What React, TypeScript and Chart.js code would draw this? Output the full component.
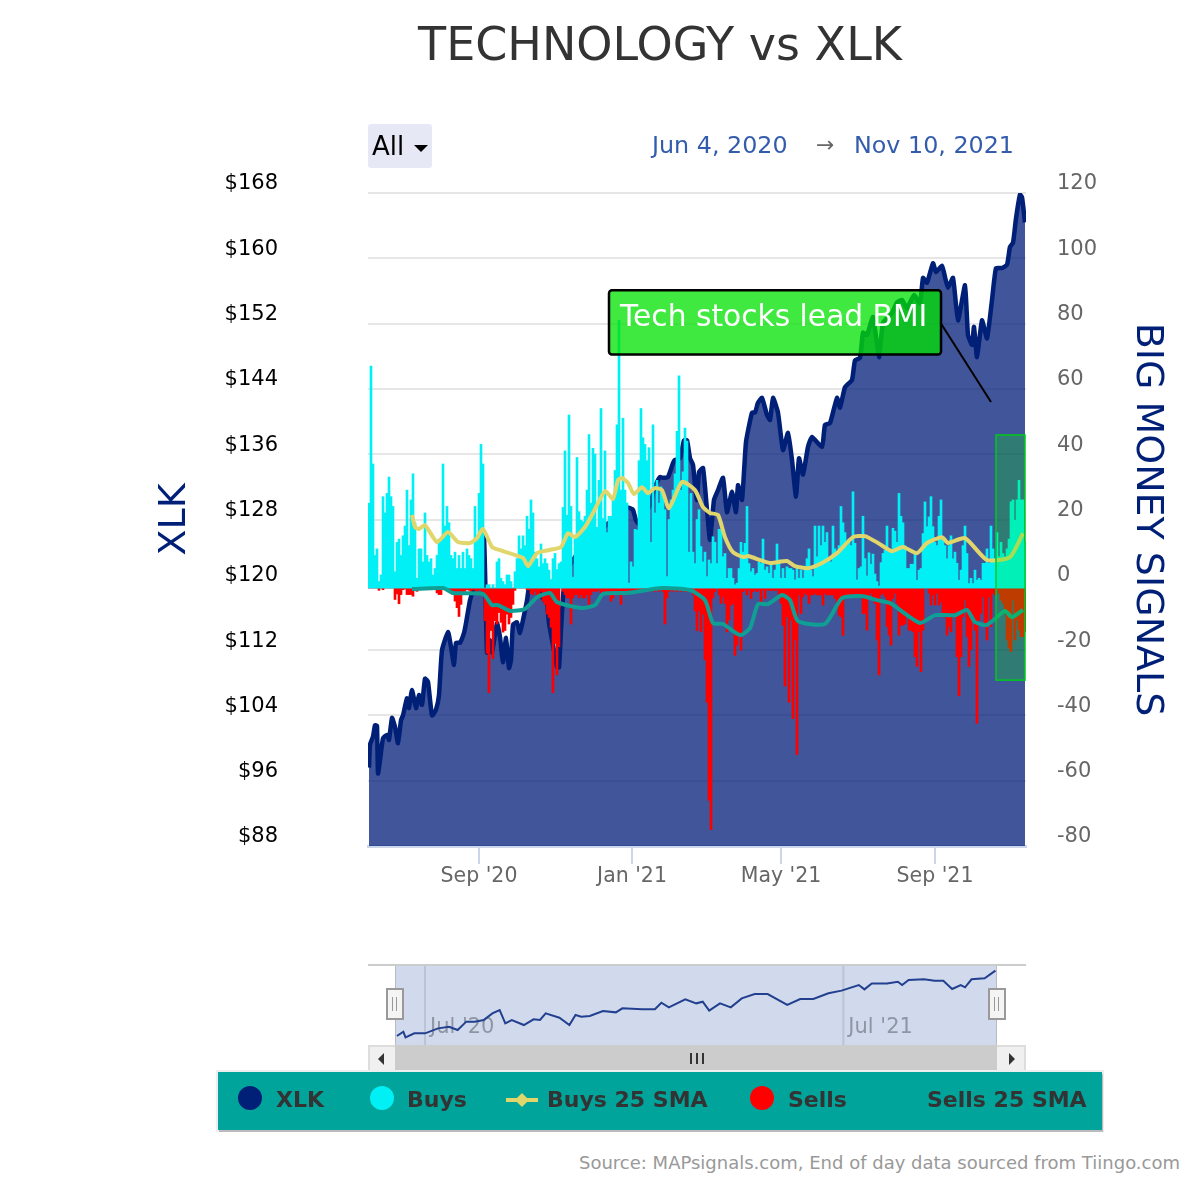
import React, { useEffect, useRef } from 'react';
import { Chart, registerables } from 'chart.js';

Chart.register(...registerables);

const FONT = '"DejaVu Sans", sans-serif';

// one value per session
const buys = [
  26, 68, 38, 10, 12, 2, 4, 28, 23, 29, 34, 28, 25, 5, 14, 15, 10, 16, 19, 30,
  13, 27, 35, 20, 3, 12, 12, 8, 23, 10, 8, 9, 4, 6, 10, 15, 15, 38, 19, 25,
  20, 10, 9, 11, 6, 10, 6, 11, 6, 12, 10, 9, 6, 25, 16, 29, 44, 38, 0, 1,
  1, 0, 1, 0, 8, 9, 3, 2, 1, 4, 4, 2, 0, 5, 9, 16, 12, 16, 13, 22,
  18, 27, 23, 11,
  9, 6.5, 13.5, 7.5, 9, 7.5, 5.5, 2.6, 9, 10.6, 5.7, 7.5, 8, 24.7, 42, 22.3, 53, 25, 3.3, 16.2,
  40, 23.4, 20.8, 20.3, 22, 30, 47, 26, 42.8, 41, 18.6, 33, 55, 21.3, 42, 17, 22, 22, 28, 36,
  50, 82, 30, 52, 30, 26, 1.5, 8, 6.5, 18, 17.8, 39, 55, 46, 44, 39, 43, 14, 50, 23,
  33, 26, 31, 29, 24, 3.5, 21, 27, 30, 35, 48, 65, 30, 35.6, 49, 45, 11, 29, 11, 7.5,
  21, 24,
  12.7, 8, 11, 3.5, 8.6, 7.5, 15.7, 14, 7.5, 18, 18, 9.6, 10.6, 3, 6, 6, 3, 1, 1.5, 6,
  14, 11, 13.7, 25, 7.5, 5, 6, 4, 4.5, 8, 7.5, 15, 5.5, 6.5, 4.5, 7.5, 3, 5.5, 13.5, 8.6,
  3, 6, 3, 6.5, 6, 6, 5.5, 2.5, 7, 3, 5.5, 3, 6, 9, 12, 5.5, 3.5, 19, 9.6, 19,
  13, 19, 14, 17, 8.6, 8, 19, 12, 11, 13, 25, 20, 17, 13, 15, 13, 29.5, 13.7, 2.5, 6,
  6.5, 22,
  9, 3.7, 10.8, 7.3, 10.4, 4.3, 2, 0.6, 7.8, 10.6, 11.6, 19, 11.6, 11, 18.3, 17.4, 14, 29, 22, 20,
  13, 6, 6, 7.3, 7.3, 10.6, 2.4, 5.5, 6, 16.7, 26.4, 18.8, 21.8, 28, 18.8, 14, 13, 22, 27, 15.7,
  13, 9, 13, 16, 9, 11, 7.6, 2.4, 5.5, 13, 19, 10.6, 1.4, 3, 1.4, 5.5, 2.4, 3, 2.4, 7.6,
  7.6, 12, 7.6, 19, 12, 9, 17, 9.6, 14, 10.6, 9.6, 12, 15, 26.4, 27, 20.8, 27, 33, 27, 27,
  14,
];

const sells = [
  0, 0, 0, 0, 0, 0.7, 0, 0.5, 0, 0, 0, 0, 0, 3.5, 1.8, 4.8, 2, 0.5, 0.3, 2,
  2, 2, 2.5, 0.5, 1, 0.3, 0.3, 0.3, 0.3, 0.3, 0.3, 0.3, 0.3, 0.3, 1.5, 2, 2, 0.5, 0.5, 0.3,
  0.5, 1.5, 2, 4, 6, 8.7, 5, 2, 1, 0.5, 0.7, 1, 0.5, 0.7, 1, 0.5, 0.7, 1, 10, 20,
  32, 13, 21.6, 10, 11, 7.5, 10.5, 13.5, 13, 8, 11, 9, 5, 0.7, 0, 0, 0, 0, 0, 0.5,
  0.5, 1.7, 2, 1, 3, 2, 1, 4, 5, 8, 9, 12, 32, 17, 26.6, 18, 0, 1, 2, 3,
  3, 11, 3, 2, 2, 3, 2, 3, 3, 2, 5, 2, 1, 1, 1, 0.5, 1.5, 1, 2, 2,
  1.5, 4, 3, 1, 1, 1, 5, 1, 1, 1, 0.5, 1, 0.5, 1, 0.7, 1, 0.5, 1, 0.7, 0.5,
  1, 0.5, 0.7, 1, 0.5, 1, 0.5, 1, 11, 3, 1, 0.7, 1, 0.5, 1, 0.7, 1, 0.5, 1, 1,
  0.7, 1, 2, 7, 13, 7, 13.4, 8, 22, 35, 65, 74, 3, 1.1, 0.1, 2.1, 4.7, 2.7, 4.7, 13.4,
  9.8, 5.2, 4.7, 20.6, 17.5, 14.9, 19, 1.1, 0.6, 2.1, 0.6, 3.2, 1.1, 0.6, 1.1, 0.6, 4.2, 0.6, 3.2, 0.6,
  0.6, 0.8, 0.6, 0.8, 0.6, 2.1, 4.7, 11.4, 30, 8.8, 35, 9.8, 40, 15.9, 51, 2.1, 7.8, 2.7, 1.6, 2.1,
  4.7, 2.1, 2.1, 1.6, 2.1, 2.1, 2.1, 5.2, 1.6, 2.1, 2.1, 2.1, 2.1, 3.2, 4.7, 8.3, 8.8, 14.5, 2.1, 2.1,
  2, 2, 2, 2, 2, 2, 2, 7.8,
  7.8, 12.9, 3.2, 1.6, 3.2, 4.7, 15.9, 26.6, 2.1, 1.6, 2.7, 11.8, 14.4, 17.5, 3.2, 1.6, 4.7, 14.4, 11.4, 11.4,
  11, 8.8, 12.9, 12.9, 13.4, 21, 24, 13.4, 25.6, 12.9, 0.1, 0.1, 1.6, 5.2, 2.1, 5.2, 1.6, 5.2, 4.2, 8.8,
  8.8, 14.4, 11.8, 13.4, 8.8, 8.8, 21, 33, 21, 8.8, 3.7, 14.8, 24, 18.8, 8.8, 12.9, 41.4, 9.8, 7.8, 2.7,
  10.8, 15.9, 2.7, 11.8, 1.6, 2.1, 0.6, 1.6, 3.7, 4.7, 6.3, 15.9, 18.4, 19.5, 3.7, 15.9, 9.8, 12.9, 14.9, 14.9,
  13.4,
];

const xlkDays = [
  0, 0.5, 2, 3, 4, 4.5, 5.5, 7, 9, 10, 11.5, 13, 14.5, 16, 17, 19, 20, 21.5, 23.5, 25,
  26.5, 28, 29.5, 31.5, 33.5, 35, 36.5, 39.5, 41, 42.5, 43.5, 45.5, 47.5, 48.5, 50.5, 52, 53.5, 55.5, 57.5, 59,
  60.5, 61.5, 64, 65.5, 67, 68.5, 70, 71, 72, 74, 75.5, 77, 79, 80.5, 83, 85, 86.5, 88, 89, 90,
  92, 94, 95, 96, 97, 98, 100.5, 105.5, 110.5, 115.5, 120.5, 124.5, 126.5, 128, 130.5, 132, 133.5, 135.5, 138, 140.5,
  142.5, 144, 145.5, 147, 149.5, 152, 153, 155.5, 157.5, 159, 160.5, 162, 163, 164, 165, 167, 169, 170.5, 172.5, 174.5,
  177, 179, 181.5, 183.5, 184.5, 186.5, 188.5, 191.5, 193, 194.5, 196.5, 199, 200.5, 202, 204.5, 207, 209.5, 211.5, 213.5, 215,
  217, 219.5, 221.5, 226.5, 228, 230.5, 234, 235.5, 238, 241.5, 243, 245.5, 247, 249, 252, 255, 257, 261.5, 264, 266.5,
  269, 272.5, 275.5, 277, 279, 282, 283.5, 286.5, 288, 289.5, 292, 294.5, 298, 299.5, 301.5, 302.5, 304, 306.5, 309, 311.5,
  313.5, 316.5, 319, 320.5, 322, 323.5, 325.5, 326.5, 328,
];
const xlkPrices = [
  97.6, 100.4, 101.4, 102.8, 102.7, 96.9, 98.5, 101.2, 101.6, 101, 103.7, 102.6, 100.6, 103.4, 104, 106.1, 104.9, 107.1, 104.9, 106.5,
  105.3, 108.5, 108.1, 104, 104.7, 106.5, 112, 114.2, 112.4, 110.2, 112.9, 112.9, 114.1, 115.3, 118.1, 119.4, 121.2, 123.7, 125.9, 111.7,
  113.2, 111.7, 115.3, 113.6, 110.5, 113.5, 109.8, 110.8, 115.1, 115.4, 114.1, 115.7, 118.1, 120.6, 121.8, 121.2, 118.5, 118.1, 117.8, 115.3,
  112.6, 109.9, 109.9, 114.5, 118.5, 120.6, 122.4, 124.3, 125.5, 126.7, 127.7, 128.6, 127.3, 129.5, 129.4, 129.2, 127.9, 127.3, 128.6, 129.8,
  131.6, 132.6, 133.2, 133.1, 133.2, 134.9, 135.3, 135.5, 137.7, 137.7, 135.5, 134.7, 132.2, 130.4, 133.8, 134.3, 129.2, 125.5, 130.4, 131.6,
  133.1, 128.9, 131.4, 128.9, 132.2, 130.4, 137.5, 141.1, 141.1, 142.3, 142.9, 140.8, 140.2, 142.9, 141.1, 136.5, 138.6, 135.3, 130.8, 135.5,
  133.5, 136.9, 138.1, 136.9, 139.6, 139.8, 142.9, 141.7, 144.2, 145.1, 147.5, 147.8, 150.9, 150.6, 152.8, 147.9, 152.1, 153.3, 154.6, 154.9,
  153.9, 155.5, 154.5, 157.6, 157, 159.4, 158.3, 159.1, 157.7, 156.4, 157.6, 152.4, 156.7, 150.6, 149.4, 151.6, 147.9, 152.4, 150.2, 154.9,
  158.8, 158.8, 159.2, 161.4, 161.9, 164.9, 167.8, 167.5, 164.4,
];

const buysSmaDays = [
  21.5, 23, 25, 28, 34, 39.5, 44.5, 50.5, 54, 57, 61.5, 65.5, 77, 79.5, 84, 89.5, 96, 99.5, 103, 108,
  112, 118, 122, 124.5, 126.5, 129.5, 132.5, 136.5, 139.5, 143, 146.5, 150, 156.5, 163, 167, 170.5, 174.5, 178, 182, 187,
  189.5, 200.5, 209, 213, 219.5, 226.5, 234, 242, 248, 254.5, 261.5, 267, 274, 279, 286.5, 289.5, 298, 309, 320.5, 327,
];
const buysSma = [
  22.4, 18.7, 18.1, 19.3, 14.1, 17.2, 14.1, 13.8, 15.3, 18.1, 12.6, 11.6, 9.2, 6.7, 10.7, 11.6, 12.6, 16.8, 15.6, 18.7,
  23, 29.7, 27.3, 33.1, 33.7, 32.2, 28.8, 30.9, 29.1, 30.6, 30, 24.5, 32.5, 30, 24.8, 23, 22.4, 15.6, 11, 9.5,
  9.8, 7.7, 8.3, 6.7, 6.1, 7.7, 10.7, 15.6, 15.9, 13.8, 11.3, 12.6, 10.7, 13.8, 15.6, 13.8, 15.3, 8.6, 9.5, 16.8,
];

const sellsSmaDays = [
  21.5, 37, 42, 57, 61.5, 64.5, 70.5, 78, 84, 90.5, 94, 106.5, 113, 117, 129, 146.5, 160.5, 168, 172, 177,
  185.5, 190.5, 194.5, 199.5, 206.5, 210.5, 214.5, 228, 236.5, 247, 254, 260.5, 275.5, 283, 293, 299, 303, 309, 318, 321.5, 327,
];
const sellsSma = [
  -0.3, 0, -1.5, -1.8, -5.2, -5.2, -7, -6.4, -2.8, -1.5, -4.3, -6.1, -5.2, -1.8, -1.5, 0, -0.6, -3.7, -10.7, -11,
  -14.4, -12.3, -4.9, -4.9, -2.1, -3.7, -10.1, -11, -3.1, -2.5, -3.7, -4.6, -10.7, -8.3, -8.3, -6.7, -10.4, -11.3, -7, -8.9, -6.7,
];

const navDays = [
  1.1, 5, 6.3, 11.6, 18.1, 25.9, 32.5, 37.7, 42.9, 48.1, 53.4, 58.6, 63, 66.4, 70.3, 77.6, 83.4, 87.3, 90.7, 99,
  105, 108.7, 112.1, 117.3, 125.2, 133, 136.9, 148.7, 156.5, 160.4, 164.9, 174.8, 181.4, 185.3, 189.2, 195.7, 202.2, 208.8, 216.6, 224.4,
  236.2, 244, 251.9, 261, 268.9, 279.3, 282.7, 287.1, 296.3, 302.8, 305.4, 309.3, 318.5, 325, 330.2, 335.5, 340.7, 343.3, 347.2, 355.1, 361.6,
];
const navPrices = [
  97, 101.7, 95.5, 99.9, 99.9, 105.3, 107.1, 103.5, 112.6, 112.6, 114.4, 121.6, 125.2, 110.8, 114.4, 108.9, 115.1, 114.4, 121.6, 116.9,
  108.9, 119.8, 118, 118.7, 124.2, 122.7, 127.1, 126, 126, 133.2, 128.1, 136.8, 132.5, 134.3, 124.5, 132.5, 128.1, 137.9, 142.6, 142.6,
  130.7, 137.2, 137.2, 143.4, 146.3, 152.4, 147.7, 154.2, 154.2, 156, 152.4, 157.9, 158.6, 157.1, 157.1, 148.1, 152.4, 149.9, 158.6, 159.7, 168,
];

const sessionTicks = [55, 131.5, 206, 283];
const sessionTickLabels = ["Sep '20", "Jan '21", "May '21", "Sep '21"];
const navTicks = [18, 270];
const navTickLabels = ["Jul '20", "Jul '21"];

const legendItems = [
  { label: 'XLK', mark: 'dot', color: '#001f77', markLeft: 238, textLeft: 276 },
  { label: 'Buys', mark: 'dot', color: '#00f0f5', markLeft: 370, textLeft: 407 },
  { label: 'Buys 25 SMA', mark: 'line', color: '#e0d66c', markLeft: 506, textLeft: 547 },
  { label: 'Sells', mark: 'dot', color: '#ff0000', markLeft: 750, textLeft: 788 },
  { label: 'Sells 25 SMA', mark: 'none', color: '', markLeft: 0, textLeft: 927 },
];

const calloutPlugin = {
  id: 'callout',
  afterDatasetsDraw(chart: any) {
    const { ctx, scales } = chart;
    const x = scales.x, price = scales.y, bmi = scales.yBars;

    // highlighted last sessions
    const bandL = x.getPixelForValue(313.5);
    const bandR = x.getPixelForValue(328);
    const bandT = bmi.getPixelForValue(46.9);
    const bandB = bmi.getPixelForValue(-28.2);
    ctx.save();
    ctx.fillStyle = 'rgba(0,240,0,0.25)';
    ctx.fillRect(bandL, bandT, bandR - bandL, bandB - bandT);
    ctx.strokeStyle = '#00c81e';
    ctx.lineWidth = 1.5;
    ctx.strokeRect(bandL, bandT, bandR - bandL, bandB - bandT);

    // connector
    ctx.strokeStyle = '#000';
    ctx.lineWidth = 2;
    ctx.beginPath();
    ctx.moveTo(x.getPixelForValue(285.5), price.getPixelForValue(152.2));
    ctx.lineTo(x.getPixelForValue(311), price.getPixelForValue(142.4));
    ctx.stroke();

    // label box
    const boxL = x.getPixelForValue(120);
    const boxR = x.getPixelForValue(286);
    const boxT = price.getPixelForValue(156.1);
    const boxB = price.getPixelForValue(148.2);
    ctx.beginPath();
    ctx.roundRect(boxL, boxT, boxR - boxL, boxB - boxT, 3);
    ctx.fillStyle = 'rgba(0,225,0,0.75)';
    ctx.fill();
    ctx.lineWidth = 2.5;
    ctx.stroke();
    ctx.fillStyle = '#fff';
    ctx.font = `29.7px ${FONT}`;
    ctx.textBaseline = 'middle';
    ctx.fillText('Tech stocks lead BMI', boxL + 11, (boxT + boxB) / 2 - 4);
    ctx.restore();
  },
};

const navPlugin = {
  id: 'navBackdrop',
  beforeDatasetsDraw(chart: any) {
    const { ctx, scales, chartArea } = chart;
    const x = scales.x;
    ctx.save();
    ctx.fillStyle = 'rgba(102,133,194,0.3)';
    const l = x.getPixelForValue(0);
    const r = x.getPixelForValue(362);
    ctx.fillRect(l, chartArea.top, r - l, chartArea.bottom - chartArea.top);
    ctx.font = `21px ${FONT}`;
    ctx.textBaseline = 'middle';
    navTicks.forEach((t, i) => {
      const px = x.getPixelForValue(t);
      ctx.fillStyle = 'rgba(180,190,205,0.8)';
      ctx.fillRect(px - 1, chartArea.top, 2, chartArea.bottom - chartArea.top);
      ctx.fillStyle = '#8f96a3';
      ctx.fillText(navTickLabels[i], px + 5, chartArea.top + 62);
    });
    ctx.restore();
  },
};

// keep tick padding from growing the plot margins
const fixYAxis = (width: number) => (axis: any) => {
  axis.width = width;
  axis.paddingTop = 0;
  axis.paddingBottom = 0;
};

const abs = (left: number, top: number, width: number, height: number): React.CSSProperties => ({
  position: 'absolute', left, top, width, height,
});

const Handle: React.FC<{ left: number }> = ({ left }) => (
  <div style={{ ...abs(left, 988, 14, 28), background: '#f4f4f4', border: '2px solid #999' }}>
    <div style={{ ...abs(4, 7, 1, 14), background: '#999' }} />
    <div style={{ ...abs(8, 7, 1, 14), background: '#999' }} />
  </div>
);

export default function App() {
  const mainRef = useRef<HTMLCanvasElement>(null);
  const navRef = useRef<HTMLCanvasElement>(null);

  useEffect(() => {
    if (!mainRef.current || !navRef.current) return;

    const main = new Chart(mainRef.current, {
      type: 'bar',
      data: {
        datasets: [
          {
            type: 'line', label: 'Sells 25 SMA', yAxisID: 'yBars', order: 1,
            data: sellsSmaDays.map((d, i) => ({ x: d, y: sellsSma[i] })),
            borderColor: '#0f9f94', borderWidth: 4, pointRadius: 0, tension: 0.2, borderJoinStyle: 'round',
          },
          {
            type: 'line', label: 'Buys 25 SMA', yAxisID: 'yBars', order: 1,
            data: buysSmaDays.map((d, i) => ({ x: d, y: buysSma[i] })),
            borderColor: '#e0d66c', borderWidth: 4, pointRadius: 0, tension: 0.2, borderJoinStyle: 'round',
          },
          {
            label: 'Buys', yAxisID: 'yBars', order: 2,
            data: buys.map((v, i) => ({ x: i, y: v })),
            backgroundColor: '#00f0f5', barThickness: 2, grouped: false,
          },
          {
            label: 'Sells', yAxisID: 'yBars', order: 2,
            data: sells.map((v, i) => ({ x: i, y: -v })),
            backgroundColor: '#ff0000', barThickness: 2, grouped: false,
          },
          {
            type: 'line', label: 'XLK', yAxisID: 'y', order: 3,
            data: xlkDays.map((d, i) => ({ x: d, y: xlkPrices[i] })),
            borderColor: '#001f77', borderWidth: 4.5, pointRadius: 0, tension: 0.15, borderJoinStyle: 'round',
            fill: 'start', backgroundColor: 'rgba(0,28,120,0.75)',
          },
        ] as any,
      },
      options: {
        responsive: false,
        animation: false,
        layout: { padding: { top: 193, left: 152, right: 30 } },
        plugins: { legend: { display: false }, tooltip: { enabled: false } },
        scales: {
          x: {
            type: 'linear', min: -0.5, max: 328.5, offset: false,
            afterBuildTicks: (axis: any) => { axis.ticks = sessionTicks.map(value => ({ value })); },
            afterFit: (axis: any) => { axis.height = 54; },
            grid: { drawOnChartArea: false, offset: false, tickLength: 18, color: '#ccd6eb', lineWidth: 2 },
            border: { color: '#ccd6eb', width: 3 },
            ticks: {
              autoSkip: false, maxRotation: 0, color: '#666', padding: 0,
              font: { family: FONT, size: 20.5 },
              callback: (v: any) => sessionTickLabels[sessionTicks.indexOf(v)] ?? '',
            },
          },
          y: {
            position: 'left', min: 88, max: 168,
            afterFit: fixYAxis(216),
            grid: { color: '#e6e6e6', lineWidth: 2, drawTicks: false },
            border: { display: false },
            title: { display: true, text: 'XLK', color: '#001f77', font: { family: FONT, size: 38 }, padding: 0 },
            ticks: {
              stepSize: 8, padding: 90, color: '#000', labelOffset: -9,
              font: { family: FONT, size: 21 },
              callback: (v: any) => `$${v}`,
            },
          },
          yRight: {
            position: 'right', min: -80, max: 120,
            afterFit: fixYAxis(144),
            grid: { drawOnChartArea: false, drawTicks: false },
            border: { display: false },
            title: { display: true, text: 'BIG MONEY SIGNALS', color: '#001f77', font: { family: FONT, size: 38 }, padding: 0 },
            ticks: {
              stepSize: 20, padding: 31, color: '#666', labelOffset: -9,
              font: { family: FONT, size: 21 },
            },
          },
          // bars sit on their own baseline, a few pixels under the labelled zero
          yBars: { display: false, min: -79, max: 121 },
        } as any,
      },
      plugins: [calloutPlugin],
    });

    const nav = new Chart(navRef.current, {
      type: 'line',
      data: {
        datasets: [{
          data: navDays.map((d, i) => ({ x: d, y: navPrices[i] })),
          borderColor: '#22408f', borderWidth: 2, pointRadius: 0, tension: 0,
        }],
      },
      options: {
        responsive: false,
        animation: false,
        layout: { padding: { top: 16, bottom: 5, left: 368, right: 174 } },
        plugins: { legend: { display: false }, tooltip: { enabled: false } },
        scales: {
          x: { type: 'linear', display: false, min: -16.3, max: 380 },
          y: { display: false, min: 87.2, max: 173.1 },
        },
      },
      plugins: [navPlugin],
    });

    return () => {
      main.destroy();
      nav.destroy();
    };
  }, []);

  return (
    <div style={{ ...abs(0, 0, 1200, 1180), fontFamily: FONT, overflow: 'hidden', background: '#fff' }}>
      <canvas ref={mainRef} width={1200} height={900} style={abs(0, 0, 1200, 900)} />
      <canvas ref={navRef} width={1200} height={100} style={abs(0, 950, 1200, 100)} />

      <div style={{ ...abs(0, 14, 1320, 60), textAlign: 'center', fontSize: 46, lineHeight: '60px', color: '#333' }}>
        TECHNOLOGY vs XLK
      </div>

      <div style={{ ...abs(368, 124, 64, 44), background: '#e6e9f5', borderRadius: 3 }}>
        <span style={{ ...abs(4, 0, 40, 44), fontSize: 26, lineHeight: '44px', color: '#000' }}>All</span>
        <div style={{ ...abs(46, 21, 0, 0), borderLeft: '7px solid transparent', borderRight: '7px solid transparent', borderTop: '7px solid #000' }} />
      </div>
      <div style={{ ...abs(652, 130, 150, 30), fontSize: 23.8, lineHeight: '30px', color: '#335cad', whiteSpace: 'nowrap' }}>Jun 4, 2020</div>
      <div style={{ ...abs(816, 130, 30, 30), fontSize: 22, lineHeight: '30px', color: '#666' }}>→</div>
      <div style={{ ...abs(854, 130, 170, 30), fontSize: 23.8, lineHeight: '30px', color: '#335cad', whiteSpace: 'nowrap' }}>Nov 10, 2021</div>

      {/* navigator frame and scrollbar */}
      <div style={{ ...abs(368, 964, 658, 2), background: '#ccc' }} />
      <div style={{ ...abs(395, 966, 1, 79), background: '#bbb' }} />
      <div style={{ ...abs(996, 966, 1, 79), background: '#bbb' }} />
      <Handle left={386} />
      <Handle left={988} />
      <div style={{ ...abs(368, 1045, 658, 27), background: '#f0f0f0', boxShadow: 'inset 0 0 0 2px #ddd' }} />
      <div style={{ ...abs(395, 1045, 602, 27), background: '#ccc', boxShadow: 'inset 0 -2px 0 #bbb' }}>
        {[295, 301, 307].map(left => <div key={left} style={{ ...abs(left, 8, 2, 11), background: '#333' }} />)}
      </div>
      <div style={{ ...abs(378, 1053, 0, 0), borderTop: '6px solid transparent', borderBottom: '6px solid transparent', borderRight: '6px solid #333' }} />
      <div style={{ ...abs(1009, 1053, 0, 0), borderTop: '6px solid transparent', borderBottom: '6px solid transparent', borderLeft: '6px solid #333' }} />

      {/* legend */}
      <div style={{ ...abs(218, 1072, 884, 58), background: '#00a49a', boxShadow: '1px 2px 0 #bbb, 0 0 0 2px #eee' }} />
      {legendItems.map(item => (
        <React.Fragment key={item.label}>
          {item.mark === 'dot' && (
            <div style={{ ...abs(item.markLeft, 1086, 24, 24), borderRadius: '50%', background: item.color }} />
          )}
          {item.mark === 'line' && (
            <>
              <div style={{ ...abs(item.markLeft, 1098, 32, 4), background: item.color }} />
              <div style={{ ...abs(item.markLeft + 11, 1095, 10, 10), background: item.color, transform: 'rotate(45deg)' }} />
            </>
          )}
          <div style={{ ...abs(item.textLeft, 1084, 190, 32), fontSize: 22, fontWeight: 'bold', lineHeight: '32px', color: '#333', whiteSpace: 'nowrap' }}>
            {item.label}
          </div>
        </React.Fragment>
      ))}

      <div style={{ ...abs(480, 1150, 700, 26), textAlign: 'right', fontSize: 18, lineHeight: '26px', color: '#999', whiteSpace: 'nowrap' }}>
        Source: MAPsignals.com, End of day data sourced from Tiingo.com
      </div>
    </div>
  );
}
